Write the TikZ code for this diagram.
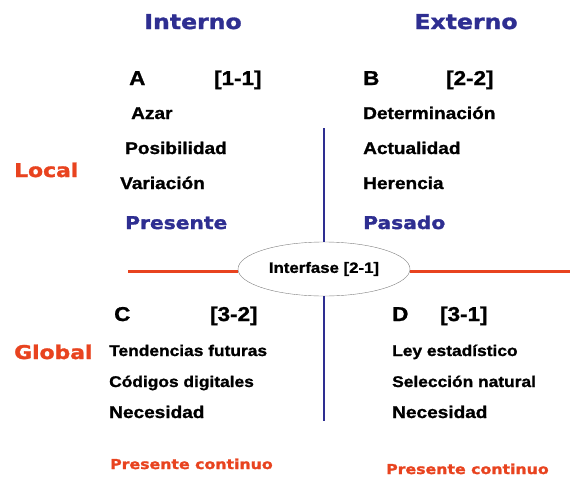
\documentclass[tikz,border=0pt]{standalone}
\usepackage{fontspec}
\setmainfont[FakeStretch=1.12, FakeBold=1.2]{Liberation Sans Bold}
\newfontfamily\verd[FakeStretch=1.15, FakeBold=1.5]{DejaVu Sans Bold}
\usetikzlibrary{shapes.geometric}
\definecolor{azul}{HTML}{2E2E91}
\definecolor{rojo}{HTML}{E8431F}
\tikzset{
	titulo/.style={anchor=base, inner sep=0pt, text=azul, font=\verd\fontsize{20.5}{24}\selectfont},
	zona/.style={anchor=base west, inner sep=0pt, text=rojo, font=\verd\fontsize{19}{22}\selectfont},
	tiempo/.style={anchor=base west, inner sep=0pt, text=azul, font=\verd\fontsize{17.6}{21}\selectfont},
	letra/.style={anchor=base west, inner sep=0pt, font=\fontsize{20}{24}\selectfont},
	item/.style={anchor=base west, inner sep=0pt, font=\fontsize{#1}{20}\selectfont},
	item/.default=17,
	continuo/.style={anchor=base west, inner sep=0pt, text=rojo, font=\verd\fontsize{13.7}{16}\selectfont},
	interfase/.style={ellipse, draw=gray, fill=white, minimum width=172pt, minimum height=54pt, inner sep=0pt, font=\fontsize{15}{18}\selectfont}
}
\begin{document}
\begin{tikzpicture}[x=1pt, y=-1pt]
		\useasboundingbox (0,0) rectangle (570,477);
		% encabezados
		\node[titulo] (int) at (193,29) {Interno};
		\node[titulo] (ext) at (466,29) {Externo};
		\node[zona] (loc) at (14,177) {Local};
		\node[zona] (glo) at (14,359) {Global};
		
		% cuadrantes
		\foreach \x/\y/\n/\t in {129/85/a/A, 214/85/ai/{[1-1]}, 363/85/b/B, 446/85/bi/{[2-2]}, 114/321/c/C, 210/321/ci/{[3-2]}, 392/321/d/D, 440/321/di/{[3-1]}}{
			\node[letra] (\n) at (\x,\y) {\t};
		}
		\foreach \x/\y/\n/\t in {131/119/a1/Azar, 125/154/a2/Posibilidad, 120/189/a3/Variación, 363/119/b1/Determinación, 363/154/b2/Actualidad, 363/189/b3/Herencia}{
			\node[item] (\n) at (\x,\y) {\t};
		}
		\foreach \x/\y/\n/\t in {109/356/c1/Tendencias futuras, 109/387/c2/Códigos digitales, 392/356/d1/Ley estadístico, 392/387/d2/Selección natural}{
			\node[item=15.5] (\n) at (\x,\y) {\t};
		}
		\node[item] (c3) at (109,418) {Necesidad};
		\node[item] (d3) at (392,418) {Necesidad};
		\node[tiempo] (pre) at (125,229) {Presente};
		\node[tiempo] (pas) at (363,229) {Pasado};
		\node[continuo] (pc1) at (110,469) {Presente continuo};
		\node[continuo] (pc2) at (386,474) {Presente continuo};
		
		% ejes
		\node[interfase] (ifz) at (324,269) {Interfase [2-1]};
		\coordinate (hi) at (128,271);
		\coordinate (hd) at (570,271);
		\coordinate (vs) at (324,128);
		\coordinate (vi) at (324,421);
		\draw[rojo, line width=3pt] (hi) -- (hi -| ifz.west);
		\draw[rojo, line width=3pt] (hd -| ifz.east) -- (hd);
		\draw[azul, line width=2.5pt] (vs) -- (ifz.north);
		\draw[azul, line width=2.5pt] (ifz.south) -- (vi);
		\end{tikzpicture}
\end{document}
